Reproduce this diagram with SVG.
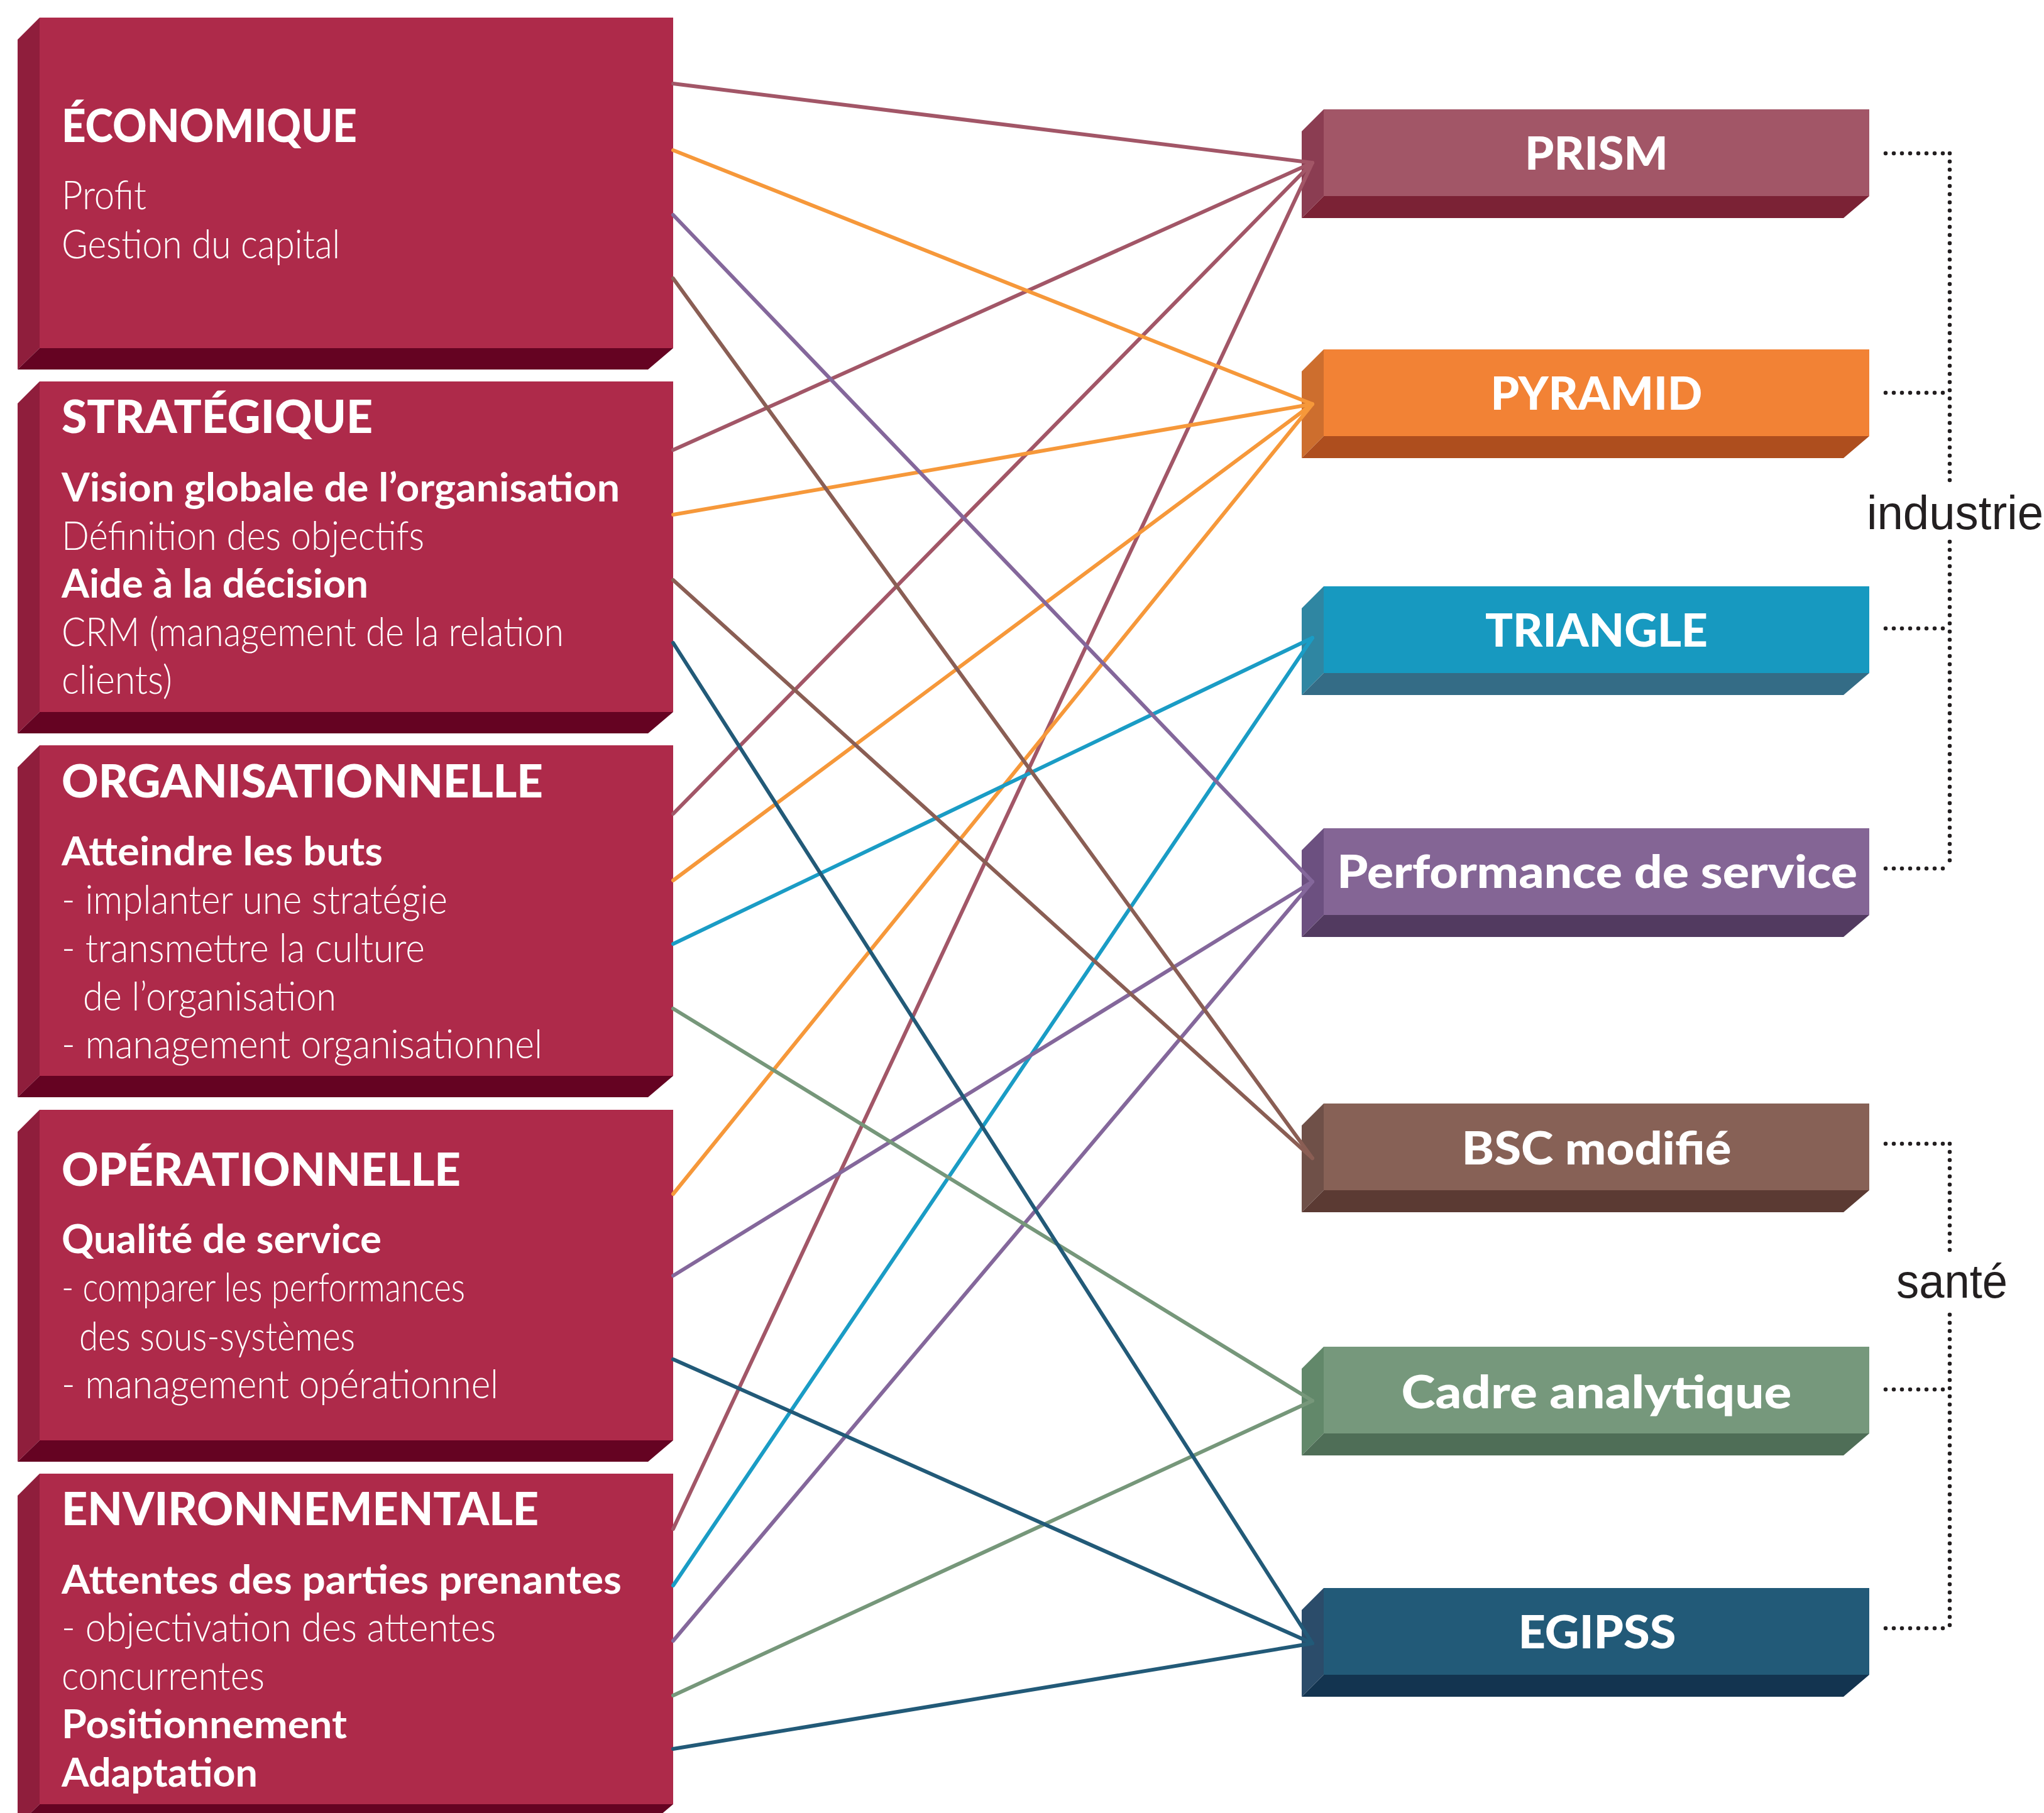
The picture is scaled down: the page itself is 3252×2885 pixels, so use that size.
<svg xmlns="http://www.w3.org/2000/svg" width="3252" height="2885" viewBox="0 0 3252 2885">
<style>
.lf{fill:#AE2A4A}.ll{fill:#8F1E3C}.lb{fill:#650322}
.h{font-family:"Lato","Liberation Sans",sans-serif;font-weight:900;font-size:72px;fill:#fff}
.b{font-family:"Lato","Liberation Sans",sans-serif;font-weight:700;font-size:63px;fill:#fff}
.t{font-family:"Lato","Liberation Sans",sans-serif;font-weight:300;font-size:63px;fill:#fff}
.r{font-family:"Lato","Liberation Sans",sans-serif;font-weight:900;font-size:72px;fill:#fff;text-anchor:middle}
.g{font-family:"Liberation Sans","DejaVu Sans",sans-serif;font-weight:400;font-size:76px;fill:#231F20}
.dot{fill:none;stroke:#231F20;stroke-width:6.5;stroke-linecap:round;stroke-dasharray:0 13}
.c{fill:none;stroke-width:6;stroke-linecap:round}
</style>
<rect width="3252" height="2885" fill="#fff"/>

<g id="economique">
<polygon class="ll" points="28,63 63,28 63,554 28,588"/>
<polygon class="lb" points="63,554 1071,554 1031,588 28,588"/>
<rect class="lf" x="63" y="28" width="1008" height="526"/>
<text class="h" x="98" y="226" textLength="470" lengthAdjust="spacingAndGlyphs">ÉCONOMIQUE</text>
<text class="t" x="98" y="333" textLength="135" lengthAdjust="spacingAndGlyphs">Profit</text>
<text class="t" x="98" y="411" textLength="443" lengthAdjust="spacingAndGlyphs">Gestion du capital</text>
</g>

<g id="strategique">
<polygon class="ll" points="28,642 63,607 63,1133 28,1167"/>
<polygon class="lb" points="63,1133 1071,1133 1031,1167 28,1167"/>
<rect class="lf" x="63" y="607" width="1008" height="526"/>
<text class="h" x="98" y="689" textLength="495" lengthAdjust="spacingAndGlyphs">STRATÉGIQUE</text>
<text class="b" x="98" y="798" textLength="888" lengthAdjust="spacingAndGlyphs">Vision globale de l’organisation</text>
<text class="t" x="98" y="875" textLength="577" lengthAdjust="spacingAndGlyphs">Définition des objectifs</text>
<text class="b" x="98" y="951" textLength="488" lengthAdjust="spacingAndGlyphs">Aide à la décision</text>
<text class="t" x="98" y="1028" textLength="799" lengthAdjust="spacingAndGlyphs">CRM (management de la relation</text>
<text class="t" x="98" y="1104" textLength="176" lengthAdjust="spacingAndGlyphs">clients)</text>
</g>

<g id="organisationnelle">
<polygon class="ll" points="28,1221 63,1186 63,1712 28,1746"/>
<polygon class="lb" points="63,1712 1071,1712 1031,1746 28,1746"/>
<rect class="lf" x="63" y="1186" width="1008" height="526"/>
<text class="h" x="98" y="1269" textLength="766" lengthAdjust="spacingAndGlyphs">ORGANISATIONNELLE</text>
<text class="b" x="98" y="1377" textLength="511" lengthAdjust="spacingAndGlyphs">Atteindre les buts</text>
<text class="t" x="98" y="1454" textLength="614" lengthAdjust="spacingAndGlyphs">- implanter une stratégie</text>
<text class="t" x="98" y="1531" textLength="578" lengthAdjust="spacingAndGlyphs">- transmettre la culture</text>
<text class="t" x="132" y="1608" textLength="403" lengthAdjust="spacingAndGlyphs">de l’organisation</text>
<text class="t" x="98" y="1684" textLength="765" lengthAdjust="spacingAndGlyphs">- management organisationnel</text>
</g>

<g id="operationnelle">
<polygon class="ll" points="28,1801 63,1766 63,2292 28,2326"/>
<polygon class="lb" points="63,2292 1071,2292 1031,2326 28,2326"/>
<rect class="lf" x="63" y="1766" width="1008" height="526"/>
<text class="h" x="98" y="1887" textLength="635" lengthAdjust="spacingAndGlyphs">OPÉRATIONNELLE</text>
<text class="b" x="98" y="1994" textLength="509" lengthAdjust="spacingAndGlyphs">Qualité de service</text>
<text class="t" x="98" y="2071" textLength="642" lengthAdjust="spacingAndGlyphs">- comparer les performances</text>
<text class="t" x="126" y="2149" textLength="439" lengthAdjust="spacingAndGlyphs">des sous-systèmes</text>
<text class="t" x="98" y="2225" textLength="695" lengthAdjust="spacingAndGlyphs">- management opérationnel</text>
</g>

<g id="environnementale">
<polygon class="ll" points="28,2380 63,2345 63,2871 28,2905"/>
<polygon class="lb" points="63,2871 1071,2871 1031,2905 28,2905"/>
<rect class="lf" x="63" y="2345" width="1008" height="526"/>
<text class="h" x="98" y="2427" textLength="759" lengthAdjust="spacingAndGlyphs">ENVIRONNEMENTALE</text>
<text class="b" x="98" y="2536" textLength="891" lengthAdjust="spacingAndGlyphs">Attentes des parties prenantes</text>
<text class="t" x="98" y="2612" textLength="691" lengthAdjust="spacingAndGlyphs">- objectivation des attentes</text>
<text class="t" x="98" y="2689" textLength="323" lengthAdjust="spacingAndGlyphs">concurrentes</text>
<text class="b" x="98" y="2766" textLength="454" lengthAdjust="spacingAndGlyphs">Positionnement</text>
<text class="b" x="98" y="2843" textLength="312" lengthAdjust="spacingAndGlyphs">Adaptation</text>
</g>

<g id="prism">
<polygon fill="#8B3D52" points="2071,209 2106,174 2106,312 2071,347"/>
<polygon fill="#7B2235" points="2106,312 2974,312 2933,347 2071,347"/>
<rect fill="#A25667" x="2106" y="174" width="868" height="138"/>
<text class="r" x="2540" y="270" textLength="228" lengthAdjust="spacingAndGlyphs">PRISM</text>
</g>
<g id="pyramid">
<polygon fill="#CD6E2E" points="2071,591 2106,556 2106,694 2071,729"/>
<polygon fill="#AE4E1E" points="2106,694 2974,694 2933,729 2071,729"/>
<rect fill="#F28235" x="2106" y="556" width="868" height="138"/>
<text class="r" x="2540" y="652" textLength="337" lengthAdjust="spacingAndGlyphs">PYRAMID</text>
</g>
<g id="triangle">
<polygon fill="#2F86A2" points="2071,968 2106,933 2106,1071 2071,1106"/>
<polygon fill="#346C86" points="2106,1071 2974,1071 2933,1106 2071,1106"/>
<rect fill="#1799C0" x="2106" y="933" width="868" height="138"/>
<text class="r" x="2540" y="1029" textLength="354" lengthAdjust="spacingAndGlyphs">TRIANGLE</text>
</g>
<g id="performance">
<polygon fill="#6C5080" points="2071,1353 2106,1318 2106,1456 2071,1491"/>
<polygon fill="#523A60" points="2106,1456 2974,1456 2933,1491 2071,1491"/>
<rect fill="#846595" x="2106" y="1318" width="868" height="138"/>
<text class="r" x="2541" y="1413" textLength="828" lengthAdjust="spacingAndGlyphs">Performance de service</text>
</g>
<g id="bsc">
<polygon fill="#6F5048" points="2071,1791 2106,1756 2106,1894 2071,1929"/>
<polygon fill="#5B3A33" points="2106,1894 2974,1894 2933,1929 2071,1929"/>
<rect fill="#876156" x="2106" y="1756" width="868" height="138"/>
<text class="r" x="2540" y="1853" textLength="429" lengthAdjust="spacingAndGlyphs">BSC modifié</text>
</g>
<g id="cadre">
<polygon fill="#62886A" points="2071,2178 2106,2143 2106,2281 2071,2316"/>
<polygon fill="#4F6E57" points="2106,2281 2974,2281 2933,2316 2071,2316"/>
<rect fill="#76987C" x="2106" y="2143" width="868" height="138"/>
<text class="r" x="2540" y="2241" textLength="621" lengthAdjust="spacingAndGlyphs">Cadre analytique</text>
</g>
<g id="egipss">
<polygon fill="#2B4C6A" points="2071,2562 2106,2527 2106,2665 2071,2700"/>
<polygon fill="#133450" points="2106,2665 2974,2665 2933,2700 2071,2700"/>
<rect fill="#225A78" x="2106" y="2527" width="868" height="138"/>
<text class="r" x="2541" y="2623" textLength="251" lengthAdjust="spacingAndGlyphs">EGIPSS</text>
</g>

<g id="groupe-industrie">
<path class="dot" d="M3000,244 H3102 M3000,625 H3102 M3000,1000 H3102 M3000,1382 H3102"/>
<path class="dot" d="M3102,244 V768 M3102,862 V1382"/>
<text class="g" x="2970" y="842" textLength="281" lengthAdjust="spacingAndGlyphs">industrie</text>
</g>
<g id="groupe-sante">
<path class="dot" d="M3000,1820 H3102 M3000,2211 H3102 M3000,2591 H3102"/>
<path class="dot" d="M3102,1820 V1990 M3102,2092 V2591"/>
<text class="g" x="3017" y="2065" textLength="177" lengthAdjust="spacingAndGlyphs">santé</text>
</g>

<g id="connectors">
<g stroke="#A25667" class="c">
<line x1="1071" y1="133" x2="2088" y2="259"/>
<line x1="1071" y1="716" x2="2088" y2="259"/>
<line x1="1071" y1="1295" x2="2088" y2="259"/>
<line x1="1071" y1="2433" x2="2088" y2="259"/>
</g>
<g stroke="#F6983A" class="c">
<line x1="1071" y1="239" x2="2088" y2="643"/>
<line x1="1071" y1="819" x2="2088" y2="643"/>
<line x1="1071" y1="1401" x2="2088" y2="643"/>
<line x1="1071" y1="1900" x2="2088" y2="643"/>
</g>
<g stroke="#1A9CC5" class="c">
<line x1="1071" y1="1502" x2="2088" y2="1015"/>
<line x1="1071" y1="2523" x2="2088" y2="1015"/>
</g>
<g stroke="#84679B" class="c">
<line x1="1071" y1="342" x2="2088" y2="1403"/>
<line x1="1071" y1="2030" x2="2088" y2="1403"/>
<line x1="1071" y1="2611" x2="2088" y2="1403"/>
</g>
<g stroke="#8A5E54" class="c">
<line x1="1071" y1="443" x2="2088" y2="1843"/>
<line x1="1071" y1="923" x2="2088" y2="1843"/>
</g>
<g stroke="#76977A" class="c">
<line x1="1071" y1="1605" x2="2088" y2="2229"/>
<line x1="1071" y1="2698" x2="2088" y2="2229"/>
</g>
<g stroke="#225A78" class="c">
<line x1="1071" y1="1023" x2="2088" y2="2615"/>
<line x1="1071" y1="2163" x2="2088" y2="2615"/>
<line x1="1071" y1="2783" x2="2088" y2="2615"/>
</g>
</g>
</svg>
